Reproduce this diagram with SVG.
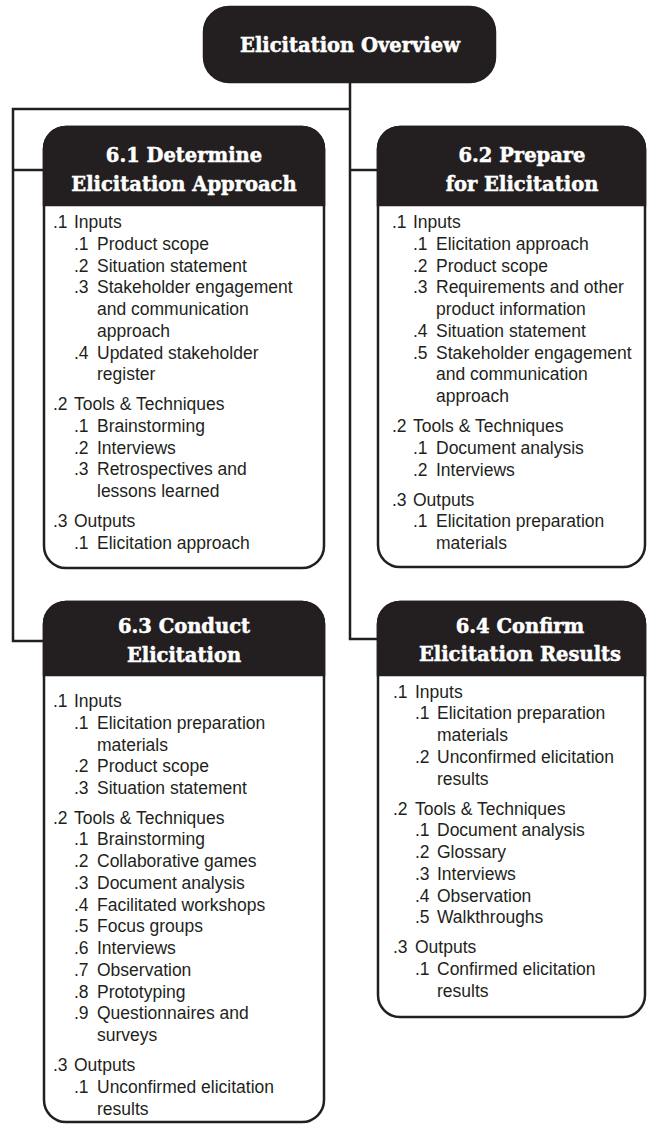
<svg xmlns="http://www.w3.org/2000/svg" width="647" height="1125" viewBox="0 0 647 1125">
<style>
.bg{fill:#fff}
.box{fill:#fff;stroke:#231f20;stroke-width:2.5}
.hd{fill:#231f20;stroke:#231f20;stroke-width:2.5}
.con{fill:none;stroke:#231f20;stroke-width:2.5}
.t{font-family:"DejaVu Serif",serif;font-weight:bold;font-size:19.5px;fill:#fff;stroke:#fff;stroke-width:0.5;text-anchor:middle}
.b{font-family:"Liberation Sans",Arial,sans-serif;font-size:17.5px;fill:#231f20}
</style>
<rect class="bg" x="0" y="0" width="647" height="1125"/>
<g id="connectors">
<path class="con" d="M350,82 V639 H378"/>
<path class="con" d="M350,109 H13 V641 H44"/>
<path class="con" d="M13,170 H44"/>
<path class="con" d="M350,170 H378"/>
</g>
<g id="overview">
<rect class="hd" x="204" y="7" width="291" height="75" rx="25"/>
<text class="t" x="350" y="52">Elicitation Overview</text>
</g>
<g id="n61">
<rect class="box" x="44" y="127" width="280" height="441" rx="22"/>
<path class="hd" d="M44,205 V149 A22,22 0 0 1 66,127 H302 A22,22 0 0 1 324,149 V205 Z"/>
<text class="t" x="184" y="162">6.1 Determine</text>
<text class="t" x="184" y="191">Elicitation Approach</text>
<text class="b">
<tspan x="53" y="228">.1</tspan><tspan x="74">Inputs</tspan>
<tspan x="74" y="249.75">.1</tspan><tspan x="97">Product scope</tspan>
<tspan x="74" y="271.5">.2</tspan><tspan x="97">Situation statement</tspan>
<tspan x="74" y="293.25">.3</tspan><tspan x="97">Stakeholder engagement</tspan>
<tspan x="97" y="315">and communication</tspan>
<tspan x="97" y="336.75">approach</tspan>
<tspan x="74" y="358.5">.4</tspan><tspan x="97">Updated stakeholder</tspan>
<tspan x="97" y="380.25">register</tspan>
<tspan x="53" y="410">.2</tspan><tspan x="74">Tools &amp; Techniques</tspan>
<tspan x="74" y="431.75">.1</tspan><tspan x="97">Brainstorming</tspan>
<tspan x="74" y="453.5">.2</tspan><tspan x="97">Interviews</tspan>
<tspan x="74" y="475.25">.3</tspan><tspan x="97">Retrospectives and</tspan>
<tspan x="97" y="497">lessons learned</tspan>
<tspan x="53" y="527">.3</tspan><tspan x="74">Outputs</tspan>
<tspan x="74" y="548.75">.1</tspan><tspan x="97">Elicitation approach</tspan>
</text>
</g>
<g id="n62">
<rect class="box" x="378" y="127" width="267" height="440" rx="22"/>
<path class="hd" d="M378,205 V149 A22,22 0 0 1 400,127 H623 A22,22 0 0 1 645,149 V205 Z"/>
<text class="t" x="522" y="162">6.2 Prepare</text>
<text class="t" x="522" y="191">for Elicitation</text>
<text class="b">
<tspan x="392" y="228">.1</tspan><tspan x="413">Inputs</tspan>
<tspan x="413" y="249.75">.1</tspan><tspan x="436">Elicitation approach</tspan>
<tspan x="413" y="271.5">.2</tspan><tspan x="436">Product scope</tspan>
<tspan x="413" y="293.25">.3</tspan><tspan x="436">Requirements and other</tspan>
<tspan x="436" y="315">product information</tspan>
<tspan x="413" y="336.75">.4</tspan><tspan x="436">Situation statement</tspan>
<tspan x="413" y="358.5">.5</tspan><tspan x="436">Stakeholder engagement</tspan>
<tspan x="436" y="380.25">and communication</tspan>
<tspan x="436" y="402">approach</tspan>
<tspan x="392" y="432">.2</tspan><tspan x="413">Tools &amp; Techniques</tspan>
<tspan x="413" y="453.75">.1</tspan><tspan x="436">Document analysis</tspan>
<tspan x="413" y="475.5">.2</tspan><tspan x="436">Interviews</tspan>
<tspan x="392" y="505.5">.3</tspan><tspan x="413">Outputs</tspan>
<tspan x="413" y="527.25">.1</tspan><tspan x="436">Elicitation preparation</tspan>
<tspan x="436" y="549">materials</tspan>
</text>
</g>
<g id="n63">
<rect class="box" x="44" y="602" width="280" height="520" rx="22"/>
<path class="hd" d="M44,675 V624 A22,22 0 0 1 66,602 H302 A22,22 0 0 1 324,624 V675 Z"/>
<text class="t" x="184" y="633">6.3 Conduct</text>
<text class="t" x="184" y="662">Elicitation</text>
<text class="b">
<tspan x="53" y="707">.1</tspan><tspan x="74">Inputs</tspan>
<tspan x="74" y="728.75">.1</tspan><tspan x="97">Elicitation preparation</tspan>
<tspan x="97" y="750.5">materials</tspan>
<tspan x="74" y="772.25">.2</tspan><tspan x="97">Product scope</tspan>
<tspan x="74" y="794">.3</tspan><tspan x="97">Situation statement</tspan>
<tspan x="53" y="823.5">.2</tspan><tspan x="74">Tools &amp; Techniques</tspan>
<tspan x="74" y="845.25">.1</tspan><tspan x="97">Brainstorming</tspan>
<tspan x="74" y="867">.2</tspan><tspan x="97">Collaborative games</tspan>
<tspan x="74" y="888.75">.3</tspan><tspan x="97">Document analysis</tspan>
<tspan x="74" y="910.5">.4</tspan><tspan x="97">Facilitated workshops</tspan>
<tspan x="74" y="932.25">.5</tspan><tspan x="97">Focus groups</tspan>
<tspan x="74" y="954">.6</tspan><tspan x="97">Interviews</tspan>
<tspan x="74" y="975.75">.7</tspan><tspan x="97">Observation</tspan>
<tspan x="74" y="997.5">.8</tspan><tspan x="97">Prototyping</tspan>
<tspan x="74" y="1019.25">.9</tspan><tspan x="97">Questionnaires and</tspan>
<tspan x="97" y="1041">surveys</tspan>
<tspan x="53" y="1071">.3</tspan><tspan x="74">Outputs</tspan>
<tspan x="74" y="1092.75">.1</tspan><tspan x="97">Unconfirmed elicitation</tspan>
<tspan x="97" y="1114.5">results</tspan>
</text>
</g>
<g id="n64">
<rect class="box" x="378" y="602" width="267" height="415" rx="22"/>
<path class="hd" d="M378,675 V624 A22,22 0 0 1 400,602 H623 A22,22 0 0 1 645,624 V675 Z"/>
<text class="t" x="520" y="633">6.4 Confirm</text>
<text class="t" x="520" y="661">Elicitation Results</text>
<text class="b">
<tspan x="393" y="697.5">.1</tspan><tspan x="415">Inputs</tspan>
<tspan x="415" y="719.25">.1</tspan><tspan x="437">Elicitation preparation</tspan>
<tspan x="437" y="741">materials</tspan>
<tspan x="415" y="762.75">.2</tspan><tspan x="437">Unconfirmed elicitation</tspan>
<tspan x="437" y="784.5">results</tspan>
<tspan x="393" y="814.5">.2</tspan><tspan x="415">Tools &amp; Techniques</tspan>
<tspan x="415" y="836.25">.1</tspan><tspan x="437">Document analysis</tspan>
<tspan x="415" y="858">.2</tspan><tspan x="437">Glossary</tspan>
<tspan x="415" y="879.75">.3</tspan><tspan x="437">Interviews</tspan>
<tspan x="415" y="901.5">.4</tspan><tspan x="437">Observation</tspan>
<tspan x="415" y="923.25">.5</tspan><tspan x="437">Walkthroughs</tspan>
<tspan x="393" y="953">.3</tspan><tspan x="415">Outputs</tspan>
<tspan x="415" y="974.75">.1</tspan><tspan x="437">Confirmed elicitation</tspan>
<tspan x="437" y="996.5">results</tspan>
</text>
</g>
</svg>
